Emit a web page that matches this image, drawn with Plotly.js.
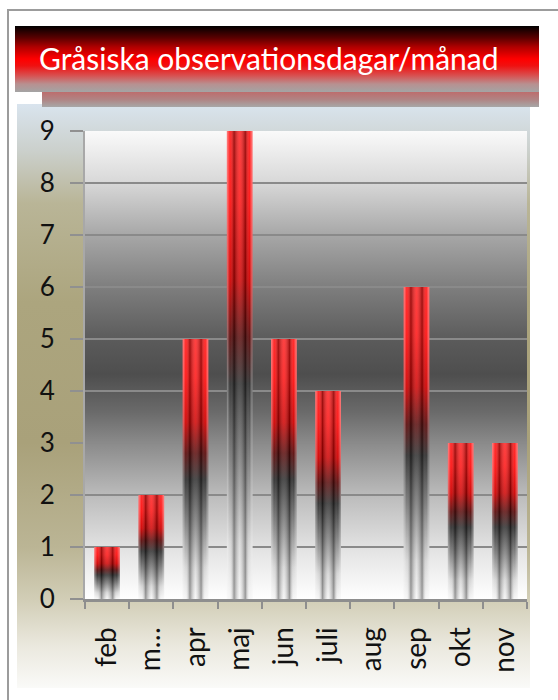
<!DOCTYPE html>
<html>
<head>
<meta charset="utf-8">
<script src="https://cdn.plot.ly/plotly-3.0.1.min.js"></script>
<style>
  html, body { margin: 0; padding: 0; background: #ffffff; }
  #wrap { position: relative; width: 558px; height: 700px; overflow: hidden; background: #fff; }
  #frame { position: absolute; left: 7px; top: 9px; width: 700px; height: 800px;
           border-left: 2px solid #9c9c9c; border-top: 2px solid #9c9c9c; }
  #chartbg { position: absolute; left: 17px; top: 104px; width: 513px; height: 584px;
             background: linear-gradient(to bottom, #d9e4ee 0%, #cbd0cc 8%, #b9b597 17%, #aca57e 34%, #a9a17a 58%, #bbb595 76%, #d2ceb7 85%, #ebe9df 93%, #fafaf8 100%); }
  #shadow { position: absolute; left: 42px; top: 92px; width: 497px; height: 15px;
            background: linear-gradient(to bottom, #bd6d6d 0%, #b08484 50%, #a7a7a7 100%); }
  #banner { position: absolute; left: 15px; top: 26px; width: 524px; height: 66px;
            background: linear-gradient(to bottom, #000000 0%, #5a0000 18%, #b00000 32%, #ff0000 50%, #f01010 60%, #d85050 75%, #b89090 88%, #a4a4a4 100%); }
  #plot { position: absolute; left: 0; top: 0; width: 558px; height: 700px; }
</style>
</head>
<body>
<div id="wrap">
  <div id="frame"></div>
  <div id="chartbg"></div>
  <div id="banner"></div>
  <div id="shadow"></div>
  <div id="plot"></div>
</div>
<script>
// ---- data ----
const months = ["feb", "m\u2026", "apr", "maj", "jun", "juli", "aug", "sep", "okt", "nov"];
const days = [1, 2, 5, 9, 5, 4, 0, 6, 3, 3];
const yTicks = [0, 1, 2, 3, 4, 5, 6, 7, 8, 9];
const chartTitle = "Gråsiska observationsdagar/månad";

// ---- styling ----
const halfW = 0.29;
const vertScale = [
  [0, "#f6f6f6"], [0.12, "#d6d6d6"], [0.3, "#7a7a7a"], [0.46, "#2e2e2e"],
  [0.56, "#5a0a0a"], [0.68, "#d00000"], [0.85, "#ff1010"], [1, "#ff2020"]
];
const stripeScale = [
  [0, "rgba(255,255,255,0.45)"], [0.12, "rgba(255,255,255,0.05)"],
  [0.28, "rgba(0,0,0,0.38)"], [0.5, "rgba(255,255,255,0.15)"],
  [0.72, "rgba(0,0,0,0.38)"], [0.88, "rgba(255,255,255,0.05)"],
  [1, "rgba(255,255,255,0.45)"]
];

const traces = [];
months.forEach((m, i) => {
  const v = days[i];
  if (!(v > 0)) return;
  const xs = [i - halfW, i + halfW, i + halfW, i - halfW, i - halfW];
  const ys = [0, 0, v, v, 0];
  traces.push({
    type: "scatter", x: xs, y: ys, mode: "lines", fill: "toself",
    line: { width: 0, color: "rgba(0,0,0,0)" },
    fillgradient: { type: "vertical", colorscale: vertScale },
    hoverinfo: "skip", showlegend: false
  });
  traces.push({
    type: "scatter", x: xs, y: ys, mode: "lines", fill: "toself",
    line: { width: 0, color: "rgba(0,0,0,0)" },
    fillgradient: { type: "horizontal", colorscale: stripeScale },
    hoverinfo: "skip", showlegend: false
  });
});

const bgSvg =
  '<svg xmlns="http://www.w3.org/2000/svg" width="100" height="100" preserveAspectRatio="none">' +
  '<defs><linearGradient id="g" x1="0" y1="0" x2="0" y2="1">' +
  '<stop offset="0" stop-color="#fafafa"/>' +
  '<stop offset="0.11" stop-color="#d8d8d8"/>' +
  '<stop offset="0.22" stop-color="#a8a8a8"/>' +
  '<stop offset="0.34" stop-color="#7c7c7c"/>' +
  '<stop offset="0.45" stop-color="#5a5a5a"/>' +
  '<stop offset="0.52" stop-color="#4e4e4e"/>' +
  '<stop offset="0.6" stop-color="#6a6a6a"/>' +
  '<stop offset="0.67" stop-color="#8c8c8c"/>' +
  '<stop offset="0.78" stop-color="#bcbcbc"/>' +
  '<stop offset="0.89" stop-color="#e2e2e2"/>' +
  '<stop offset="1" stop-color="#ffffff"/>' +
  '</linearGradient></defs><rect width="100" height="100" fill="url(#g)"/></svg>';
const bgURI = "data:image/svg+xml;charset=utf-8," + encodeURIComponent(bgSvg);

const font = "Lato, 'Open Sans', sans-serif";

const layout = {
  width: 558, height: 700,
  margin: { l: 85, r: 31, t: 131, b: 101, pad: 0 },
  paper_bgcolor: "rgba(0,0,0,0)",
  plot_bgcolor: "rgba(0,0,0,0)",
  title: {
    text: chartTitle, xref: "container", yref: "container",
    x: 39 / 558, xanchor: "left", y: 1 - 59 / 700, yanchor: "middle",
    font: { family: font, size: 30, color: "#ffffff" }
  },
  xaxis: {
    range: [-0.5, 9.5], tickmode: "array",
    tickvals: months.map((m, i) => i), ticktext: months,
    tickangle: -90, ticks: "", ticklabelstandoff: 14,
    tickfont: { family: font, size: 28, color: "#111" },
    showline: true, linecolor: "#8e8e8e", linewidth: 3,
    showgrid: false, zeroline: false, fixedrange: true,
    minor: { tickmode: "linear", tick0: -0.5, dtick: 1, ticks: "outside", ticklen: 7, tickwidth: 2, tickcolor: "#8e8e8e", showgrid: false }
  },
  yaxis: {
    range: [0, 9], tickmode: "array", tickvals: yTicks,
    ticks: "outside", ticklen: 13, tickwidth: 2, tickcolor: "#909090",
    ticklabelstandoff: 10,
    tickfont: { family: font, size: 26, color: "#111" },
    showline: true, linecolor: "#a8a8a8", linewidth: 2,
    showgrid: true, gridcolor: "#8a8a8a", gridwidth: 2,
    zeroline: false, fixedrange: true
  },
  images: [{
    source: bgURI, xref: "x", yref: "y", x: -0.5, y: 9, sizex: 10, sizey: 9,
    xanchor: "left", yanchor: "top", sizing: "stretch", layer: "below"
  }],
  showlegend: false
};

Plotly.newPlot("plot", traces, layout, { displayModeBar: false, staticPlot: true });
</script>
</body>
</html>
